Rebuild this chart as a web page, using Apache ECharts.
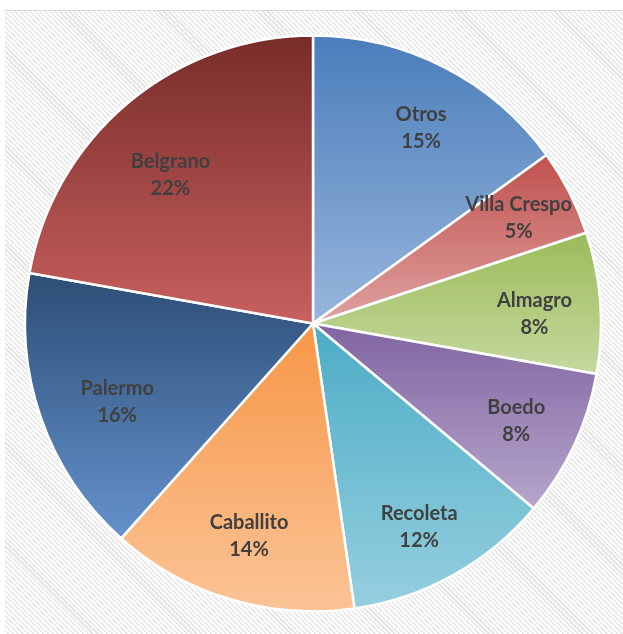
<!DOCTYPE html>
<html>
<head>
<meta charset="utf-8">
<script src="https://cdn.jsdelivr.net/npm/echarts@6/dist/echarts.min.js"></script>
<style>
  html, body { margin: 0; padding: 0; background: #ffffff; }
  #wrap { position: relative; width: 623px; height: 634px; }
  #bg {
    position: absolute; left: 5px; top: 10px; right: 0; bottom: 0;
    border-top: 1px solid #d9d9d9;
    background: repeating-linear-gradient(45deg, #ffffff 0px, #ffffff 2px, #e6e6e6 2px, #e6e6e6 3.5px);
  }
  #chart { position: absolute; left: 0; top: 0; width: 623px; height: 634px; }
</style>
</head>
<body>
<div id="wrap">
  <div id="bg"></div>
  <div id="chart"></div>
</div>
<script>
const categories = ['Otros', 'Villa Crespo', 'Almagro', 'Boedo', 'Recoleta', 'Caballito', 'Palermo', 'Belgrano'];
const values = [15.05, 4.85, 7.9, 8.3, 11.6, 13.9, 16.2, 22.2];
const topColors = ['#4a7dbb', '#c0504d', '#9bbb59', '#8064a2', '#4bacc6', '#f79646', '#2c4d75', '#772c2a'];
const bottomColors = ['#98b6dc', '#dfa3a2', '#c6d9a0', '#b7a6cb', '#96cfdf', '#fbc497', '#6592cd', '#c8605e'];
// label nudges (style only), in pixels
const labelNudges = [[7, 2], [8, -4], [0, 7], [2, 4], [-2, 10], [0, 0], [14, 6], [0, 22]];

const chart = echarts.init(document.getElementById('chart'), null, { renderer: 'canvas' });

const sliceData = categories.map((name, i) => ({
  name: name,
  value: values[i],
  itemStyle: {
    color: new echarts.graphic.LinearGradient(0, 0, 0, 1, [
      { offset: 0, color: topColors[i] },
      { offset: 1, color: bottomColors[i] }
    ])
  }
}));

const labelData = categories.map((name, i) => ({
  name: name,
  value: values[i],
  label: { offset: labelNudges[i] }
}));

chart.setOption({
  animation: false,
  series: [
    {
      type: 'pie',
      center: [313, 323.5],
      radius: [0, 288],
      startAngle: 90,
      clockwise: true,
      silent: true,
      label: { show: false },
      labelLine: { show: false },
      itemStyle: { borderColor: '#ffffff', borderWidth: 2.5 },
      data: sliceData
    },
    {
      type: 'pie',
      center: [313, 323.5],
      radius: [150, 288],
      startAngle: 90,
      clockwise: true,
      silent: true,
      percentPrecision: 0,
      itemStyle: { color: 'rgba(0,0,0,0)' },
      labelLine: { show: false },
      label: {
        show: true,
        position: 'inside',
        formatter: '{b}\n{d}%',
        fontFamily: 'Lato',
        fontWeight: 'bold',
        fontSize: 20,
        lineHeight: 27,
        color: '#404040'
      },
      data: labelData
    }
  ]
});
</script>
</body>
</html>
